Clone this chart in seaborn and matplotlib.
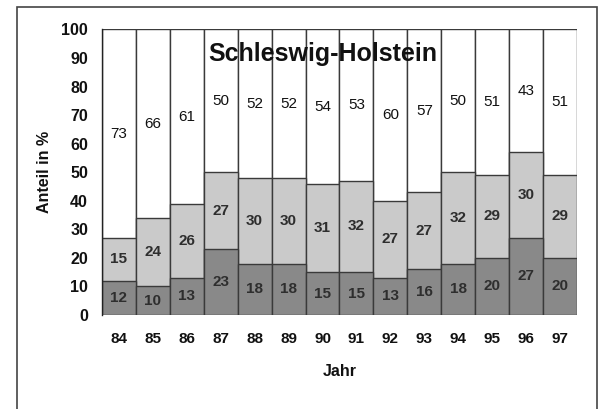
import matplotlib
matplotlib.use("Agg")
import matplotlib.pyplot as plt
import seaborn as sns
import pandas as pd
from matplotlib.patches import Rectangle

# Anteile je Jahr (in %), von unten nach oben gestapelt
jahre = ["84", "85", "86", "87", "88", "89", "90", "91", "92", "93", "94", "95", "96", "97"]
unten = [12, 10, 13, 23, 18, 18, 15, 15, 13, 16, 18, 20, 27, 20]
mitte = [15, 24, 26, 27, 30, 30, 31, 32, 27, 27, 32, 29, 30, 29]
oben = [73, 66, 61, 50, 52, 52, 54, 53, 60, 57, 50, 51, 43, 51]

sns.set_theme(style="white")
plt.rcParams["font.family"] = ["Liberation Sans", "DejaVu Sans"]

df = pd.DataFrame({"Jahr": jahre, "unten": unten, "mitte": mitte, "oben": oben})
df["s_mitte"] = df["unten"] + df["mitte"]
df["s_oben"] = df["s_mitte"] + df["oben"]

fig = plt.figure(figsize=(6.03, 4.09), dpi=100)
ax = fig.add_axes([0.169, 0.23, 0.788, 0.698])

edge = "#3a3a3a"
layers = [("s_oben", "#ffffff"), ("s_mitte", "#cacaca"), ("unten", "#898989")]
for col, color in layers:
    sns.barplot(data=df, x="Jahr", y=col, color=color, width=1.0,
                edgecolor=edge, linewidth=1.0, saturation=1, ax=ax)

# Werte in die Segmente schreiben
for i in range(len(jahre)):
    b, m, t = unten[i], mitte[i], oben[i]
    ax.text(i, b / 2, str(b), ha="center", va="center", fontsize=11,
            fontweight="bold", color="#2e2e2e")
    ax.text(i, b + m / 2, str(m), ha="center", va="center", fontsize=11,
            fontweight="bold", color="#2e2e2e")
    ax.text(i, b + m + t / 2, str(t), ha="center", va="center", fontsize=11,
            color="#111111")

ax.set_xlim(-0.5, len(jahre) - 0.5)
ax.set_ylim(0, 100)
ax.set_yticks(range(0, 101, 10))
ax.tick_params(axis="y", direction="inout", length=8, width=1.0, color="#222222",
               labelsize=11.5, pad=6, labelcolor="#111111")
ax.tick_params(axis="x", length=0, labelsize=11, pad=12, labelcolor="#111111")
for lab in ax.get_yticklabels() + ax.get_xticklabels():
    lab.set_fontweight("bold")

for side in ["top", "right", "bottom"]:
    ax.spines[side].set_visible(False)
ax.spines["left"].set_color("#222222")
ax.spines["left"].set_linewidth(1.0)

ax.set_xlabel("Jahr", fontsize=11.5, fontweight="bold", labelpad=13, color="#111111")
ax.set_ylabel("Anteil in %", fontsize=11.5, fontweight="bold", labelpad=7, color="#111111")

ax.text(0.465, 0.915, "Schleswig-Holstein", transform=ax.transAxes, ha="center",
        va="center", fontsize=18, fontweight="bold", color="#111111")

# Rahmen um die gesamte Grafik
fig.patches.append(Rectangle((17 / 603, -0.05), 580 / 603, 1.05 - 7 / 409,
                             transform=fig.transFigure, fill=False,
                             edgecolor="#444444", linewidth=1.2))

fig.savefig("out.png", dpi=100)
